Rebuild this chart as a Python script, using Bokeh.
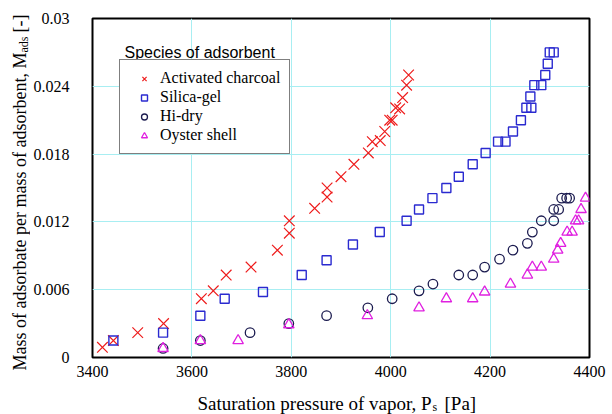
import math
from bokeh.plotting import figure
from bokeh.layouts import row, column
from bokeh.models import Range1d, FixedTicker, Label, Legend, LegendItem
from bokeh.embed import file_html
from bokeh.resources import INLINE

# ---------------- data ----------------
charcoal_p = [3420, 3442, 3491, 3543, 3619, 3643, 3669, 3719, 3772, 3796, 3796, 3847, 3872, 3872,
              3900, 3926, 3955, 3963, 3979, 3988, 3998, 4003, 4010, 4018, 4024, 4032, 4036]
charcoal_m = [0.0009, 0.0015, 0.0022, 0.0030, 0.0052, 0.0059, 0.0073, 0.0080, 0.0095, 0.0110, 0.0121,
              0.0132, 0.0142, 0.0150, 0.0160, 0.0171, 0.0181, 0.0191, 0.0192, 0.0200, 0.0210, 0.0210,
              0.0221, 0.0220, 0.0230, 0.0241, 0.0250]

silica_p = [3442, 3542, 3617, 3666, 3743, 3821, 3871, 3924, 3978, 4032, 4057, 4084, 4112, 4137, 4165,
            4191, 4216, 4231, 4246, 4262, 4273, 4283, 4281, 4289, 4303, 4311, 4316, 4320, 4328]
silica_m = [0.0015, 0.0022, 0.0037, 0.0052, 0.0058, 0.0073, 0.0086, 0.0100, 0.0111, 0.0121, 0.0131,
            0.0141, 0.0150, 0.0160, 0.0171, 0.0181, 0.0191, 0.0191, 0.0200, 0.0210, 0.0221, 0.0221,
            0.0231, 0.0241, 0.0241, 0.0250, 0.0260, 0.0270, 0.0270]

hidry_p = [3542, 3617, 3717, 3795, 3871, 3954, 4003, 4057, 4085, 4137, 4165, 4189, 4219, 4246, 4275,
           4285, 4303, 4328, 4328, 4338, 4344, 4354, 4360]
hidry_m = [0.0008, 0.0015, 0.0022, 0.0030, 0.0037, 0.0044, 0.0052, 0.0059, 0.0065, 0.0073, 0.0073,
           0.0080, 0.0087, 0.0095, 0.0101, 0.0111, 0.0121, 0.0121, 0.0131, 0.0131, 0.0141, 0.0141, 0.0141]

oyster_p = [3542, 3617, 3693, 3795, 3953, 4057, 4112, 4165, 4189, 4241, 4275, 4285, 4303, 4328, 4336,
            4342, 4355, 4365, 4372, 4378, 4383, 4392]
oyster_m = [0.0008, 0.0015, 0.0015, 0.0029, 0.0037, 0.0044, 0.0052, 0.0052, 0.0058, 0.0065, 0.0073,
            0.0080, 0.0080, 0.0087, 0.0095, 0.0101, 0.0111, 0.0111, 0.0121, 0.0121, 0.0131, 0.0141]

series_names = ["Activated charcoal", "Silica-gel", "Hi-dry", "Oyster shell"]

x_ticks = [3400, 3600, 3800, 4000, 4200, 4400]
x_tick_labels = ["3400", "3600", "3800", "4000", "4200", "4400"]
y_ticks = [0, 0.006, 0.012, 0.018, 0.024, 0.03]
y_tick_labels = ["0", "0.006", "0.012", "0.018", "0.024", "0.03"]

# ---------------- layout geometry (page pixels) ----------------
SERIF = "Liberation Serif, Times New Roman, serif"
SANS = "Liberation Sans, Arial, sans-serif"

W, H = 612, 414
STRIP_W = 30          # left strip holding the y title
MAIN_H = 385          # main figure height; bottom strip holds the x title
FL, FR, FT, FB = 92, 589, 18, 357   # frame edges on the page


def no_align(f):
    if "frame_align" in f.properties():
        f.frame_align = False
    return f


main_w = W - STRIP_W
p = figure(width=main_w, height=MAIN_H, output_backend="svg", toolbar_location=None,
           x_range=Range1d(3400, 4400), y_range=Range1d(0, 0.03),
           min_border_left=FL - STRIP_W, min_border_right=W - FR,
           min_border_top=FT, min_border_bottom=MAIN_H - FB)
no_align(p)

p.outline_line_color = "black"
p.outline_line_width = 2
p.background_fill_color = "white"
p.border_fill_color = "white"

p.xgrid.grid_line_color = "#a8eef2"
p.ygrid.grid_line_color = "#a8eef2"

p.xaxis.ticker = FixedTicker(ticks=x_ticks)
p.yaxis.ticker = FixedTicker(ticks=y_ticks)
p.xaxis.major_label_overrides = dict(zip(x_ticks, x_tick_labels))
p.yaxis.major_label_overrides = dict(zip(y_ticks, y_tick_labels))
for ax in (p.xaxis, p.yaxis):
    ax.axis_line_color = None
    ax.major_tick_line_color = None
    ax.minor_tick_line_color = None
    ax.major_tick_in = 0
    ax.major_tick_out = 0
    ax.minor_tick_in = 0
    ax.minor_tick_out = 0
    ax.major_label_text_font = SERIF
    ax.major_label_text_font_size = "16px"
    ax.major_label_text_color = "black"
p.xaxis.major_label_standoff = 8
p.yaxis.major_label_standoff = 23

r1 = p.scatter(charcoal_p, charcoal_m, marker="x", size=15, line_color="#ee1c1c", line_width=1.2)
r2 = p.scatter(silica_p, silica_m, marker="square", size=9, line_color="#2a2ad0", fill_color=None, line_width=1.4)
r3 = p.scatter(hidry_p, hidry_m, marker="circle", size=9.5, line_color="#1c1c50", fill_color=None, line_width=1.3)
r4 = p.scatter(oyster_p, oyster_m, marker="triangle", size=10.5, line_color="#e020e0", fill_color=None, line_width=1.3)

legend = Legend(items=[LegendItem(label=n, renderers=[r]) for n, r in zip(series_names, [r1, r2, r3, r4])],
                location=(119 - FL, FB - 154), orientation="vertical",
                label_text_font=SERIF, label_text_font_size="16px", label_text_color="black",
                glyph_width=30, glyph_height=15, label_height=15, label_standoff=1,
                spacing=1, padding=9, margin=0,
                border_line_color="black", border_line_width=1,
                background_fill_color="white", background_fill_alpha=1)
p.add_layout(legend, "center")

p.add_layout(Label(x=124 - FL, y=FB - 52, x_units="screen", y_units="screen",
                   text="Species of adsorbent", text_font=SANS, text_font_size="16px",
                   text_baseline="middle", text_align="left", text_color="black"))


def strip(width, height):
    f = figure(width=width, height=height, output_backend="svg", toolbar_location=None,
               x_range=Range1d(0, 1), y_range=Range1d(0, 1),
               x_axis_location=None, y_axis_location=None,
               min_border=0, min_border_left=0, min_border_right=0,
               min_border_top=0, min_border_bottom=0)
    no_align(f)
    f.outline_line_color = None
    f.grid.visible = False
    f.background_fill_color = "white"
    f.border_fill_color = "white"
    return f


# ---- y title strip (page x 0..30, y 0..414) ----
ys = strip(STRIP_W, H)
ang = math.pi / 2
def lx(px):
    return px
def ly(py):
    return H - py
ys.add_layout(Label(x=lx(19), y=ly(370), x_units="screen", y_units="screen", angle=ang,
                    text="Mass of adsorbate per mass of adsorbent, M", text_font=SERIF, text_font_size="18px",
                    text_align="left", text_baseline="middle", text_color="black"))
ys.add_layout(Label(x=lx(23), y=ly(52), x_units="screen", y_units="screen", angle=ang,
                    text="ads", text_font=SERIF, text_font_size="12px",
                    text_align="left", text_baseline="middle", text_color="black"))
ys.add_layout(Label(x=lx(19), y=ly(32), x_units="screen", y_units="screen", angle=ang,
                    text="[-]", text_font=SERIF, text_font_size="18px",
                    text_align="left", text_baseline="middle", text_color="black"))

# ---- x title strip (page x 30..612, y 385..414) ----
xs = strip(main_w, H - MAIN_H)
def bx(px):
    return px - STRIP_W
def by(py):
    return H - py
xs.add_layout(Label(x=bx(197), y=by(403), x_units="screen", y_units="screen",
                    text="Saturation pressure of vapor, P", text_font=SERIF, text_font_size="19px",
                    text_align="left", text_baseline="alphabetic", text_color="black"))
xs.add_layout(Label(x=bx(432), y=by(406), x_units="screen", y_units="screen",
                    text="s", text_font=SERIF, text_font_size="12px",
                    text_align="left", text_baseline="alphabetic", text_color="black"))
xs.add_layout(Label(x=bx(444), y=by(403), x_units="screen", y_units="screen",
                    text="[Pa]", text_font=SERIF, text_font_size="19px",
                    text_align="left", text_baseline="alphabetic", text_color="black"))

layout = row(ys, column(p, xs, spacing=0), spacing=0)

open("out.html", "w").write(file_html(layout, INLINE))
